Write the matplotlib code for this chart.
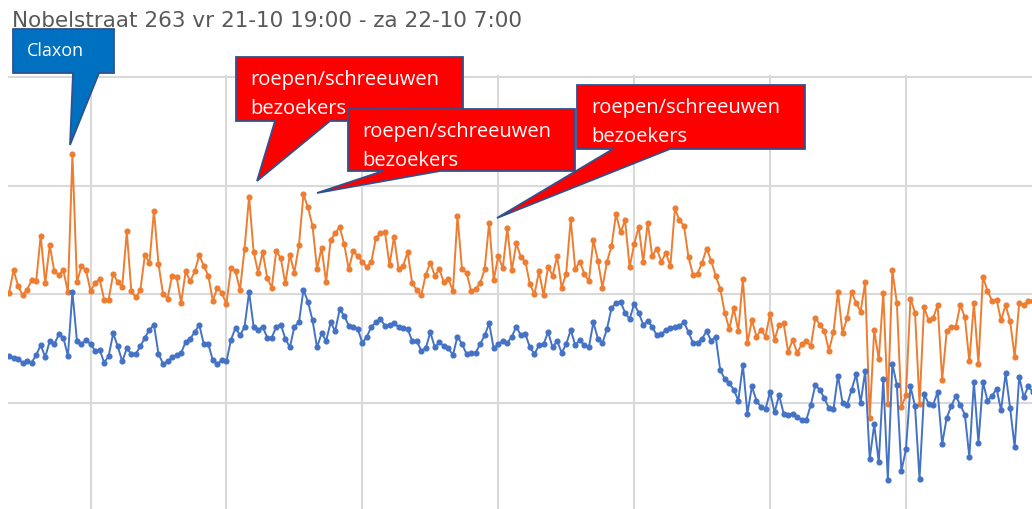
import numpy as np
import matplotlib
matplotlib.use("Agg")
import matplotlib.pyplot as plt
from matplotlib.patches import Polygon

W, H = 1032, 510

# geluidsniveau per meting (dB), bovenste reeks oranje, onderste blauw
orange = [
    50.1, 52.2, 50.8, 49.9, 50.4, 51.3, 51.2, 55.4, 51.0, 54.5,
    52.1, 51.8, 52.2, 50.2, 62.9, 51.1, 52.6, 52.2, 50.3, 51.0,
    51.4, 49.5, 49.5, 51.9, 51.1, 50.7, 55.8, 50.3, 49.7, 50.4,
    53.6, 52.9, 57.7, 52.8, 50.0, 49.6, 51.7,
    51.6, 49.2, 52.1, 51.2, 52.1, 53.6, 52.6, 51.7, 49.4, 50.6,
    50.1, 49.1, 52.4, 52.1, 50.4, 54.2, 59.0, 53.9, 52.0, 53.9,
    51.5, 50.6, 54.0, 53.3, 51.0, 53.6, 52.0, 54.5, 59.2, 58.0,
    56.3, 52.3, 54.3, 51.1, 55.0, 55.6, 56.2, 54.6,
    52.3, 54.0, 53.5, 53.0, 52.5, 53.0, 55.2, 55.6, 55.7, 52.7,
    55.3, 52.3, 52.6, 53.9, 51.0, 50.4, 49.9, 51.8, 52.9, 51.7,
    52.3, 51.1, 51.4, 50.3, 57.2, 52.3, 52.0, 50.3, 50.5, 51.0,
    52.3, 56.6, 51.3, 53.5, 52.4, 56.1, 52.2,
    54.7, 53.4, 53.0, 50.9, 50.0, 52.1, 49.9, 52.5, 51.7, 53.5,
    50.6, 51.9, 56.9, 52.3, 53.0, 51.9, 51.2, 55.0, 53.1, 50.6,
    53.0, 54.4, 57.4, 55.7, 56.8, 52.5, 54.6, 56.2, 53.0, 56.6,
    53.5, 54.2, 53.0, 53.8, 52.6, 57.9, 56.8, 56.3,
    53.4, 51.8, 51.9, 52.9, 54.2, 53.1, 51.7, 50.5, 48.3, 46.8,
    48.7, 46.6, 51.4, 45.5, 47.6, 46.1, 46.7, 46.1, 48.2, 45.8,
    47.2, 47.3, 44.7, 45.8, 44.6, 45.4, 45.7, 45.2, 47.8, 47.2,
    46.6, 44.8, 46.5, 50.2, 46.4, 47.8, 50.2,
    49.2, 48.4, 51.1, 38.6, 46.7, 44.0, 50.1, 39.9, 52.2, 49.2,
    39.6, 40.7, 49.6, 48.3, 39.9, 48.8, 47.6, 47.8, 49.0, 42.1,
    46.6, 47.0, 47.0, 49.0, 47.9, 43.8, 49.2, 43.6, 51.6, 50.3,
    49.4, 49.5, 47.6, 49.0, 47.5, 44.2, 49.2, 49.0, 49.4, 49.4,
]

blue = [
    44.3, 44.1, 44.0, 43.7, 43.8, 43.7, 44.4, 45.3, 44.2, 45.7,
    45.4, 46.3, 46.0, 44.3, 50.2, 45.7, 45.4, 45.8, 45.4, 44.8,
    44.9, 43.7, 44.3, 46.4, 45.2, 43.8, 45.0, 44.5, 44.5, 45.2,
    46.0, 46.7, 47.2, 44.5, 43.6, 43.8, 44.2,
    44.4, 44.6, 45.6, 45.9, 46.5, 47.2, 45.4, 45.4, 43.9, 43.6,
    43.9, 43.8, 45.8, 46.9, 46.2, 47.0, 50.2, 47.0, 46.7, 47.0,
    46.0, 46.0, 47.0, 47.2, 45.9, 45.1, 47.0, 47.4, 50.4, 49.3,
    47.6, 45.1, 46.4, 45.7, 47.4, 46.6, 48.6, 48.0,
    47.1, 47.0, 46.8, 45.5, 46.1, 47.0, 47.4, 47.7, 47.1, 47.2,
    47.3, 47.0, 46.9, 46.8, 45.7, 45.7, 44.8, 45.0, 46.5, 45.1,
    45.6, 45.2, 45.0, 44.4, 46.1, 45.4, 44.5, 44.6, 44.6, 45.4,
    46.2, 47.3, 45.0, 45.4, 45.7, 45.5, 46.1,
    47.0, 46.2, 46.3, 45.1, 44.5, 45.3, 45.4, 46.5, 45.1, 45.7,
    44.6, 45.4, 46.7, 45.3, 45.8, 45.3, 45.1, 47.4, 45.9, 45.5,
    46.8, 48.7, 49.2, 49.3, 48.3, 47.7, 49.1, 48.3, 47.2, 47.5,
    47.0, 46.2, 46.3, 46.7, 46.9, 47.0, 47.1, 47.4,
    46.5, 45.5, 45.5, 45.9, 46.6, 45.7, 46.1, 43.0, 42.2, 41.8,
    41.2, 40.2, 43.5, 39.0, 41.5, 40.2, 39.6, 39.4, 41.0, 39.1,
    40.7, 39.0, 38.9, 39.0, 38.7, 38.4, 38.4, 39.8, 41.6, 41.2,
    40.4, 39.5, 39.4, 42.5, 40.0, 39.8, 41.2,
    42.6, 40.0, 42.9, 34.8, 38.0, 34.5, 42.2, 32.9, 43.6, 41.6,
    33.7, 35.7, 41.5, 39.7, 33.0, 40.8, 39.9, 39.8, 41.0, 36.2,
    38.6, 39.7, 40.6, 39.8, 38.9, 35.0, 41.9, 36.3, 41.9, 40.2,
    40.6, 41.3, 39.3, 42.7, 39.5, 35.9, 42.4, 40.5, 41.5, 41.0,
]

y_ticks = [40, 50, 60, 70]
x_ticks = [18, 48, 78, 108, 138, 168, 198]

title = "Nobelstraat 263 vr 21-10 19:00 - za 22-10 7:00"
claxon_text = "Claxon"
shout_text = "roepen/schreeuwen\nbezoekers"

# pixel mapping of the cropped excel chart
X0, DX = 9.0, 4.53          # first point, spacing in px
Y40, DY = 403.7, 10.85       # px of the 40 line, px per dB


def fig_xy(px, py):
    return px / W, 1 - py / H


fig = plt.figure(figsize=(W / 100, H / 100), dpi=100)
ax_left, ax_top, ax_right = 8, 76, 1040
ax = fig.add_axes([ax_left / W, 0, (ax_right - ax_left) / W, (H - ax_top) / H])
ax.set_xlim((ax_left - X0) / DX, (ax_right - X0) / DX)
ax.set_ylim(40 - (H - Y40) / DY, 40 + (Y40 - ax_top) / DY)

x = np.arange(len(orange))
ax.plot(x, orange, color="#ED7D31", lw=1.4, marker="o", ms=3.4, zorder=3)
ax.plot(x, blue, color="#4472C4", lw=1.4, marker="o", ms=3.4, zorder=3)

ax.set_xticks(x_ticks)
ax.set_yticks(y_ticks)
ax.grid(True, color="#D9D9D9", lw=1.5)
ax.tick_params(length=0, labelbottom=False, labelleft=False)
for s in ax.spines.values():
    s.set_visible(False)

fig.text(*fig_xy(12, 21), title, fontsize=15.5, color="#595959",
         family="DejaVu Sans", va="center", ha="left")


def callout(box, base, tip, color, text, fs, z):
    l, t, r, b = box
    pts = [(l, t), (r, t), (r, b), (base[1], b), tip, (base[0], b), (l, b)]
    poly = Polygon([fig_xy(*p) for p in pts], closed=True, transform=fig.transFigure,
                   facecolor=color, edgecolor="#2F528F", lw=1.3, joinstyle="miter", zorder=z)
    fig.add_artist(poly)
    fig.text(*fig_xy(l + 14, t + 12), text, fontsize=fs, color="white", family="Open Sans",
             va="top", ha="left", linespacing=1.6, zorder=z + 0.5)


callout((13, 30, 114, 74), (73, 99), (70, 146), "#0070C0", claxon_text, 13, 5)
callout((236, 58, 463, 122), (275, 330), (257, 182), "#FF0000", shout_text, 14.5, 6)
callout((348, 110, 575, 172), (383, 440), (317, 194), "#FF0000", shout_text, 14.5, 7)
callout((577, 86, 805, 150), (613, 670), (497, 219), "#FF0000", shout_text, 14.5, 8)

fig.savefig("out.png", dpi=100)
